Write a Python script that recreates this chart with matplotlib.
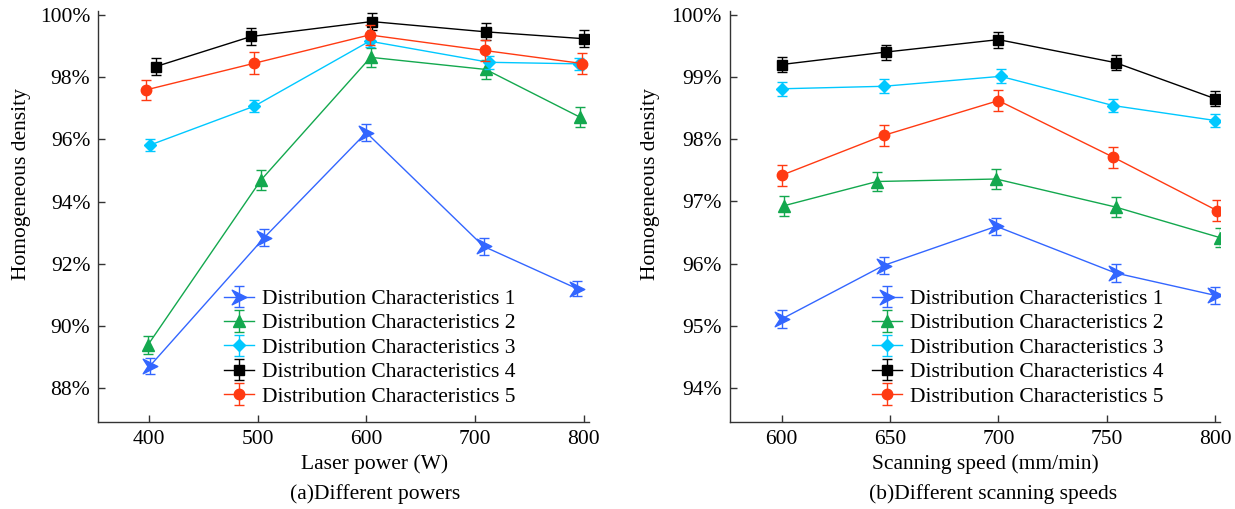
import matplotlib
matplotlib.use("Agg")
import matplotlib.pyplot as plt
from matplotlib.path import Path
from matplotlib.ticker import FuncFormatter

plt.rcParams['font.family'] = ['Liberation Serif', 'DejaVu Serif']
FS = 15.5
plt.rcParams['font.size'] = FS

labels = ["Distribution Characteristics 1", "Distribution Characteristics 2",
          "Distribution Characteristics 3", "Distribution Characteristics 4",
          "Distribution Characteristics 5"]
colors = ["#3366FF", "#13A84E", "#00C8FF", "#000000", "#FF3A12"]

# (a) laser power
power_x = [
    [401, 506, 600, 708, 794],
    [399, 503, 604, 710, 797],
    [401, 497, 603, 713, 796],
    [406, 494, 605, 710, 800],
    [397, 497, 603, 709, 799],
]
power_y = [
    [88.72, 92.84, 96.22, 92.56, 91.20],
    [89.39, 94.69, 98.64, 98.25, 96.71],
    [95.82, 97.07, 99.16, 98.48, 98.43],
    [98.34, 99.31, 99.79, 99.46, 99.24],
    [97.59, 98.45, 99.36, 98.86, 98.44],
]
power_err = [
    [0.25, 0.28, 0.28, 0.28, 0.25],
    [0.30, 0.32, 0.30, 0.32, 0.32],
    [0.20, 0.20, 0.20, 0.20, 0.20],
    [0.27, 0.27, 0.27, 0.27, 0.27],
    [0.33, 0.35, 0.33, 0.33, 0.33],
]

# (b) scanning speed
speed_x = [
    [600, 647, 699, 754, 800],
    [601, 644, 699, 754, 802],
    [600, 647, 701, 753, 800],
    [600, 648, 700, 754, 800],
    [600, 647, 700, 753, 801],
]
speed_y = [
    [95.11, 95.97, 96.60, 95.85, 95.49],
    [96.93, 97.32, 97.36, 96.91, 96.42],
    [98.81, 98.85, 99.01, 98.54, 98.30],
    [99.20, 99.40, 99.60, 99.23, 98.65],
    [97.42, 98.06, 98.62, 97.71, 96.85],
]
speed_err = [
    [0.14, 0.14, 0.14, 0.14, 0.14],
    [0.16, 0.16, 0.16, 0.16, 0.16],
    [0.11, 0.11, 0.11, 0.11, 0.11],
    [0.12, 0.12, 0.13, 0.12, 0.12],
    [0.17, 0.17, 0.17, 0.17, 0.17],
]

arrow = Path([(-1, 1), (1, 0), (-1, -1), (-0.35, 0), (-1, 1)],
             [Path.MOVETO, Path.LINETO, Path.LINETO, Path.LINETO, Path.CLOSEPOLY])
markers = [arrow, "^", "D", "s", "o"]
msizes = [10.5, 8, 6.5, 7, 7.5]

fig = plt.figure(figsize=(12.35, 5.09), dpi=100)
W, H = 1235, 509
y_top, y_bot = 11, 421.7
axA = fig.add_axes([98 / W, 1 - y_bot / H, (588.5 - 98) / W, (y_bot - y_top) / H])
axB = fig.add_axes([729.6 / W, 1 - y_bot / H, (1220 - 729.6) / W, (y_bot - y_top) / H])


def draw(ax, xs, ys, es):
    for i in range(5):
        ax.errorbar(xs[i], ys[i], yerr=es[i], color=colors[i], marker=markers[i],
                    markersize=msizes[i], lw=1.0, elinewidth=1.0, capsize=3.5,
                    capthick=1.0, label=labels[i], zorder=3 + i)
    for side in ("top", "right"):
        ax.spines[side].set_visible(False)
    for side in ("left", "bottom"):
        ax.spines[side].set_color("#333333")
        ax.spines[side].set_linewidth(1.0)
    ax.tick_params(direction="in", length=5, width=1, color="#333333",
                   labelsize=FS)
    ax.tick_params(axis="x", pad=6)
    ax.tick_params(axis="y", pad=5.5)
    ax.yaxis.set_major_formatter(FuncFormatter(lambda v, p: f"{v:.0f}%"))


draw(axA, power_x, power_y, power_err)
axA.set_xlim(353, 804.6)
axA.set_ylim(86.92, 100.13)
axA.set_xticks([400, 500, 600, 700, 800])
axA.set_yticks([88, 90, 92, 94, 96, 98, 100])

draw(axB, speed_x, speed_y, speed_err)
axB.set_xlim(576, 802.2)
axB.set_ylim(93.46, 100.06)
axB.set_xticks([600, 650, 700, 750, 800])
axB.set_yticks([94, 95, 96, 97, 98, 99, 100])

for ax, x0 in ((axA, 224), (axB, 872)):
    ax.legend(loc="upper left", bbox_to_anchor=(x0 / W, 1 - 289 / H),
              bbox_transform=fig.transFigure, frameon=False, fontsize=FS,
              borderpad=0, borderaxespad=0, handlelength=1.4, handletextpad=0.36,
              labelspacing=0.2)

fig.text(375 / W, 1 - 464 / H, "Laser power (W)", ha="center", va="center", fontsize=FS)
fig.text(375 / W, 1 - 494 / H, "(a)Different powers", ha="center", va="center", fontsize=FS)
fig.text(985 / W, 1 - 464 / H, "Scanning speed (mm/min)", ha="center", va="center", fontsize=FS)
fig.text(993 / W, 1 - 494 / H, "(b)Different scanning speeds", ha="center", va="center", fontsize=FS)
fig.text(22 / W, 1 - 184 / H, "Homogeneous density", ha="center", va="center",
         rotation=90, fontsize=FS)
fig.text(650 / W, 1 - 184 / H, "Homogeneous density", ha="center", va="center",
         rotation=90, fontsize=FS)

fig.savefig("out.png", dpi=100)
